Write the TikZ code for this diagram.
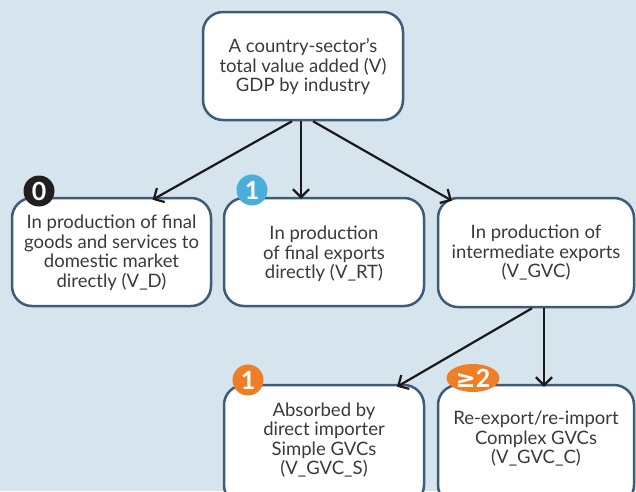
\documentclass[tikz,border=0pt]{standalone}
\usepackage{fontspec}
\setmainfont{Lato}
\newfontfamily\symf{DejaVu Sans}
\usetikzlibrary{arrows.meta,shapes.geometric}
\definecolor{bgc}{HTML}{D6E5ED}
\definecolor{bordc}{HTML}{3E5B7A}
\definecolor{txtc}{HTML}{3A3A3A}
\definecolor{badgeblue}{HTML}{4AAEDB}
\definecolor{badgeorange}{HTML}{F07E26}
\definecolor{badgeblack}{HTML}{231F20}
\tikzset{
  box/.style={draw=bordc, line width=2.5pt, fill=white, rounded corners=20pt, inner sep=0pt},
  lbl/.style={align=center, text=txtc, font=\fontsize{18.5}{19.5}\selectfont, inner sep=0pt},
  arr/.style={draw=black!90, line width=2.2pt, -{Straight Barb[length=8pt,width=16pt]}},
  badge/.style={circle, fill=#1, text=white, inner sep=0pt, minimum size=31pt, font=\bfseries\fontsize{25}{25}\selectfont},
  obadge/.style={ellipse, fill=badgeorange, text=white, inner sep=0pt, minimum width=53pt, minimum height=28pt, font=\bfseries\fontsize{25}{25}\selectfont}
}
\begin{document}
\begin{tikzpicture}[x=1pt,y=-1pt]
\fill[bgc] (0,0) rectangle (636,491);
\clip (0,0) rectangle (636,491);
\node[box, minimum width=200pt, minimum height=108pt] (top) at (303,66) {};
\node[box, minimum width=199pt, minimum height=108pt] (left) at (111.5,252) {};
\node[box, minimum width=200pt, minimum height=108pt] (mid) at (324,252) {};
\node[box, minimum width=196pt, minimum height=109pt] (right) at (536,252.5) {};
\node[box, minimum width=200pt, minimum height=120pt] (bl) at (324,445) {};
\node[box, minimum width=196pt, minimum height=120pt] (br) at (536,445) {};
\node[lbl] (ttop) at (303,67) {A country-sector’s\\total value added (V)\\GDP by industry};
\node[lbl] (tleft) at (111.5,253) {In production of final\\goods and services to\\domestic market\\directly (V\_D)};
\node[lbl] (tmid) at (324,254) {In production\\of final exports\\directly (V\_RT)};
\node[lbl] (tright) at (536,253) {In production of\\intermediate exports\\(V\_GVC)};
\node[lbl] (tbl) at (324,440) {Absorbed by\\direct importer\\Simple GVCs\\(V\_GVC\_S)};
\node[lbl] (tbr) at (536,439) {Re-export/re-import\\Complex GVCs\\(V\_GVC\_C)};
\draw[arr] ([xshift=-11pt]top.south) -- ([xshift=41pt,yshift=-3pt]left.north);
\draw[arr] ([xshift=-2pt]top.south) -- ([xshift=-23pt,yshift=-2pt]mid.north);
\draw[arr] ([xshift=10pt]top.south) -- ([xshift=-84pt,yshift=-4pt]right.north);
\draw[arr] ([xshift=-4pt]right.south) -- ([xshift=73pt,yshift=-3pt]bl.north);
\draw[arr] ([xshift=8pt]right.south) -- ([xshift=8pt,yshift=-3pt]br.north);
\node[badge=badgeblack] (b0) at (39,191) {0};
\node[badge=badgeblue] (b1) at (252,190) {1};
\node[badge=badgeorange] (b2) at (248,380) {1};
\node[obadge] (b3) at (473,378) {{\symf\bfseries\fontsize{24}{24}\selectfont ≥}2};
\end{tikzpicture}
\end{document}
